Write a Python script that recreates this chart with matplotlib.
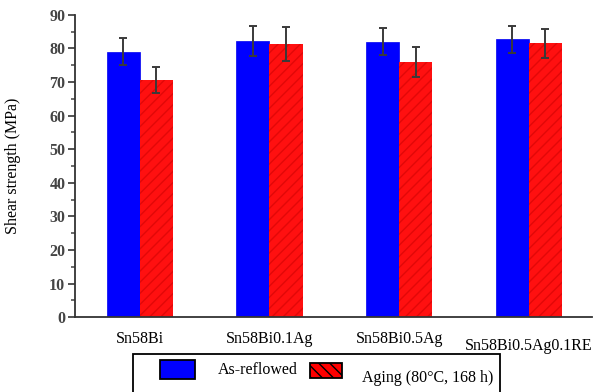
import numpy as np
import matplotlib
matplotlib.use("Agg")
import matplotlib.pyplot as plt
from matplotlib.patches import Rectangle
from matplotlib.ticker import MultipleLocator
from matplotlib.transforms import ScaledTranslation

plt.rcParams["font.family"] = ["Liberation Serif", "DejaVu Serif"]

# data
alloys = ["Sn58Bi", "Sn58Bi0.1Ag", "Sn58Bi0.5Ag", "Sn58Bi0.5Ag0.1RE"]
as_reflowed = [79.0, 82.2, 82.0, 82.8]
as_reflowed_err = [4.0, 4.5, 4.0, 4.0]
aged = [70.6, 81.3, 76.0, 81.6]
aged_err = [4.0, 5.0, 4.5, 4.3]
series_labels = ["As-reflowed", "Aging (80°C, 168 h)"]

W, H = 598, 392
x = np.arange(len(alloys))
w = 0.255

fig = plt.figure(figsize=(W / 100, H / 100), dpi=100)
ax = fig.add_axes([0.1254, 0.191, 0.865, 0.771])

err_kw = dict(ecolor="#3a3a3a", elinewidth=1.4, capsize=3, capthick=1.4)
ax.bar(x - w / 2, as_reflowed, w, yerr=as_reflowed_err, color="#0000ff",
       edgecolor="#0000ee", linewidth=0.5, error_kw=err_kw, zorder=2)
ax.bar(x + w / 2, aged, w, yerr=aged_err, color="#ff1010",
       edgecolor="#e20808", linewidth=0, hatch="///", error_kw=err_kw, zorder=2)

ax.set_xlim(-0.5, 3.49)
ax.set_ylim(0, 90)
ax.yaxis.set_major_locator(MultipleLocator(10))
ax.yaxis.set_minor_locator(MultipleLocator(5))
ax.set_xticks(x)
ax.set_xticklabels(alloys, fontsize=11.5)
ax.tick_params(axis="x", length=0, pad=10)
ax.tick_params(axis="y", which="major", direction="out", length=5, width=1.3,
               colors="#444444", labelsize=11.5, pad=2)
ax.tick_params(axis="y", which="minor", direction="out", length=3, width=1.1,
               colors="#444444")
for lab in ax.get_yticklabels():
    lab.set_fontweight("bold")

# last category label sits a little lower in the original
last = ax.get_xticklabels()[-1]
last.set_transform(last.get_transform() + ScaledTranslation(0, -5 / 72, fig.dpi_scale_trans))

for side in ["top", "right"]:
    ax.spines[side].set_visible(False)
for side in ["left", "bottom"]:
    ax.spines[side].set_linewidth(1.3)
    ax.spines[side].set_color("#333333")

ax.set_ylabel("Shear strength (MPa)", fontsize=11.5, labelpad=20)


# legend box drawn by hand (frame runs off the bottom of the figure)
def px(x0, y0, w0, h0):
    return (x0 / W, 1 - (y0 + h0) / H), w0 / W, h0 / H


xy, fw, fh = px(133, 354, 367, 60)
fig.add_artist(Rectangle(xy, fw, fh, transform=fig.transFigure, fill=False,
                         edgecolor="black", linewidth=1.3))
xy, fw, fh = px(160, 360, 35, 19)
fig.add_artist(Rectangle(xy, fw, fh, transform=fig.transFigure,
                         facecolor="#0000ff", edgecolor="black", linewidth=1.3))
fig.text(218 / W, 1 - 370 / H, series_labels[0], fontsize=11.5, va="center")
xy, fw, fh = px(310, 363, 32, 15)
fig.add_artist(Rectangle(xy, fw, fh, transform=fig.transFigure,
                         facecolor="#ff0000", edgecolor="black", linewidth=1.3,
                         hatch="\\\\\\"))
fig.text(362 / W, 1 - 378 / H, series_labels[1], fontsize=11.5, va="center")

fig.savefig("out.png", dpi=100)
